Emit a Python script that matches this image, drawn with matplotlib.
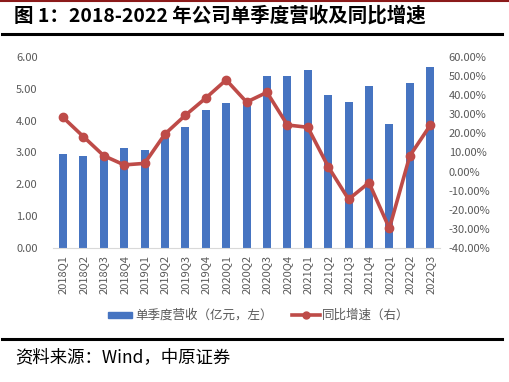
import matplotlib
matplotlib.use('Agg')
import matplotlib.pyplot as plt
from matplotlib.lines import Line2D
from matplotlib.patches import Rectangle
from matplotlib.ticker import FuncFormatter

plt.rcParams['font.family'] = ['Noto Sans CJK SC', 'DejaVu Sans']

# 数据
quarters = ['2018Q1', '2018Q2', '2018Q3', '2018Q4', '2019Q1', '2019Q2', '2019Q3', '2019Q4',
            '2020Q1', '2020Q2', '2020Q3', '2020Q4', '2021Q1', '2021Q2', '2021Q3', '2021Q4',
            '2022Q1', '2022Q2', '2022Q3']
revenue = [2.95, 2.89, 2.95, 3.13, 3.08, 3.47, 3.80, 4.34, 4.55, 4.65, 5.39, 5.41,
           5.60, 4.81, 4.58, 5.09, 3.91, 5.18, 5.68]
growth = [28.4, 18.3, 8.3, 3.5, 4.3, 19.7, 29.5, 38.5, 48.0, 36.4, 41.5, 24.4,
          23.2, 2.6, -14.5, -5.8, -29.7, 8.2, 24.2]

bar_color = '#4674C1'
line_color = '#BE4B48'
tick_color = '#595959'

fig = plt.figure(figsize=(5.1, 3.82), dpi=100)

ax = fig.add_axes([0.1035, 0.3508, 0.76, 0.5])
x = list(range(len(quarters)))
ax.bar(x, revenue, width=0.4, color=bar_color, zorder=2)
ax.set_xlim(-0.5, len(quarters) - 0.5)
ax.set_ylim(0, 6)
ax.set_yticks([0, 1, 2, 3, 4, 5, 6])
ax.yaxis.set_major_formatter(FuncFormatter(lambda v, p: f'{v:.2f}'))
ax.set_xticks(x)
ax.set_xticklabels(quarters, rotation=90)
for s in ['top', 'right', 'left']:
    ax.spines[s].set_visible(False)
ax.spines['bottom'].set_color('#D9D9D9')
ax.tick_params(axis='both', length=0, colors=tick_color, labelsize=8)
ax.tick_params(axis='y', pad=11)
ax.tick_params(axis='x', pad=5)

ax2 = ax.twinx()
ax2.plot(x, growth, color=line_color, linewidth=2.6, marker='o', markersize=6, zorder=3)
ax2.set_ylim(-40, 60)
ax2.set_yticks(range(-40, 61, 10))
ax2.yaxis.set_major_formatter(FuncFormatter(lambda v, p: f'{v:.2f}%'))
for s in ['top', 'right', 'left', 'bottom']:
    ax2.spines[s].set_visible(False)
ax2.tick_params(axis='y', length=0, colors=tick_color, labelsize=8, pad=6)

# 图例
fig.patches.append(Rectangle((108 / 510, 1 - 318 / 382), 24 / 510, 6 / 382,
                             transform=fig.transFigure, color=bar_color, figure=fig))
fig.text(135 / 510, 1 - 315 / 382, '单季度营收（亿元，左）', fontsize=9, color=tick_color, va='center')
fig.lines.append(Line2D([292 / 510, 320 / 510], [1 - 315 / 382] * 2, transform=fig.transFigure,
                        color=line_color, linewidth=2.6, figure=fig))
fig.lines.append(Line2D([306 / 510], [1 - 315 / 382], transform=fig.transFigure,
                        color=line_color, marker='o', markersize=5, figure=fig))
fig.text(322 / 510, 1 - 315 / 382, '同比增速（右）', fontsize=9, color=tick_color, va='center')

# 标题和来源
fig.lines.append(Line2D([0, 1], [1 - 0.8 / 382] * 2, transform=fig.transFigure,
                        color='#8B1A1A', linewidth=1.5, figure=fig))
fig.text(14 / 510, 1 - 16 / 382, '图 1：2018-2022 年公司单季度营收及同比增速',
         fontsize=14, fontweight='heavy', va='center')
fig.lines.append(Line2D([2 / 510, 502 / 510], [1 - 34 / 382] * 2, transform=fig.transFigure,
                        color='black', linewidth=2.2, figure=fig))
fig.lines.append(Line2D([2 / 510, 502 / 510], [1 - 339 / 382] * 2, transform=fig.transFigure,
                        color='black', linewidth=2.2, figure=fig))
fig.text(15 / 510, 1 - 357 / 382, '资料来源：Wind，中原证券', fontsize=12.5, va='center')

plt.savefig('out.png', dpi=100)
